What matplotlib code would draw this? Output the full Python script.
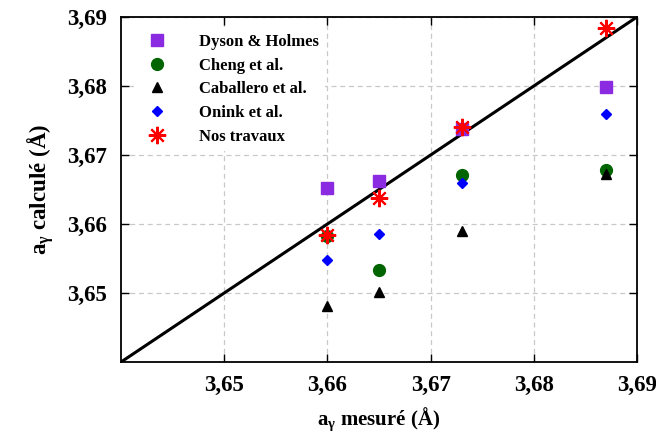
import matplotlib
matplotlib.use("Agg")
import matplotlib.pyplot as plt
from matplotlib.ticker import FuncFormatter

plt.rcParams['font.family'] = ['Liberation Serif', 'DejaVu Serif']
plt.rcParams['font.weight'] = 'bold'
plt.rcParams['mathtext.fontset'] = 'custom'
plt.rcParams['mathtext.rm'] = 'Liberation Serif:bold'
plt.rcParams['mathtext.it'] = 'Liberation Serif:bold'
plt.rcParams['mathtext.bf'] = 'Liberation Serif:bold'

x_mesure = [3.660, 3.665, 3.673, 3.687]
dyson = [3.6652, 3.6663, 3.6738, 3.6799]
cheng = [3.6583, 3.6534, 3.6671, 3.6678]
caballero = [3.6481, 3.6501, 3.6590, 3.6673]
onink = [3.6548, 3.6586, 3.6659, 3.6759]
nos = [3.6584, 3.6637, 3.6741, 3.6884]
ticks = [3.65, 3.66, 3.67, 3.68, 3.69]
lims = [3.64, 3.69]

fig = plt.figure(figsize=(6.56, 4.36), dpi=100)
ax = fig.add_axes([0.1845, 0.1697, 0.7865, 0.7913])

ax.plot(lims, lims, color='black', lw=2.2, zorder=2)

ax.plot(x_mesure, dyson, 's', color='#8a2be2', ms=8.5, ls='none', label='Dyson & Holmes', zorder=3)
ax.plot(x_mesure, cheng, 'o', color='#006400', ms=8.5, ls='none', label='Cheng et al.', zorder=3)
ax.plot(x_mesure, caballero, '^', color='black', ms=7.5, ls='none', label='Caballero et al.', zorder=4)
ax.plot(x_mesure, onink, 'D', color='#0000ff', ms=5.6, ls='none', label='Onink et al.', zorder=3)
ax.plot(x_mesure, nos, marker=(8, 2, 0), color='#ff0000', ms=12.5, mew=1.5, ls='none', label='Nos travaux', zorder=5)

ax.set_xlim(lims)
ax.set_ylim(lims)
ax.set_xticks(ticks)
ax.set_yticks(ticks)
fmt = FuncFormatter(lambda v, p: f"{v:.2f}".replace('.', ','))
ax.xaxis.set_major_formatter(fmt)
ax.yaxis.set_major_formatter(fmt)
ax.tick_params(direction='in', length=6, width=1, top=True, right=True, labelsize=16.5)
ax.tick_params(axis='x', pad=9)
ax.tick_params(axis='y', pad=10)
for lab in ax.get_xticklabels() + ax.get_yticklabels():
    lab.set_fontweight('bold')
ax.grid(True, color='#c8c8c8', ls=(0, (4, 3)), lw=0.9)
ax.set_axisbelow(True)
for s in ax.spines.values():
    s.set_linewidth(1.3)

ax.set_xlabel(r'a$_\gamma$ mesuré (Å)', fontsize=15, fontweight='bold', labelpad=7)
ax.set_ylabel(r'a$_\gamma$ calculé (Å)', fontsize=16.5, fontweight='bold', labelpad=8)

leg = ax.legend(loc='upper left', bbox_to_anchor=(0.015, 0.985), frameon=True, fontsize=12,
                handletextpad=1.5, labelspacing=0.46, borderaxespad=0.3, markerscale=1.0)
leg.get_frame().set_facecolor('white')
leg.get_frame().set_edgecolor('none')
leg.get_frame().set_alpha(1)
for t in leg.get_texts():
    t.set_fontweight('bold')

fig.savefig('out.png', dpi=100)
